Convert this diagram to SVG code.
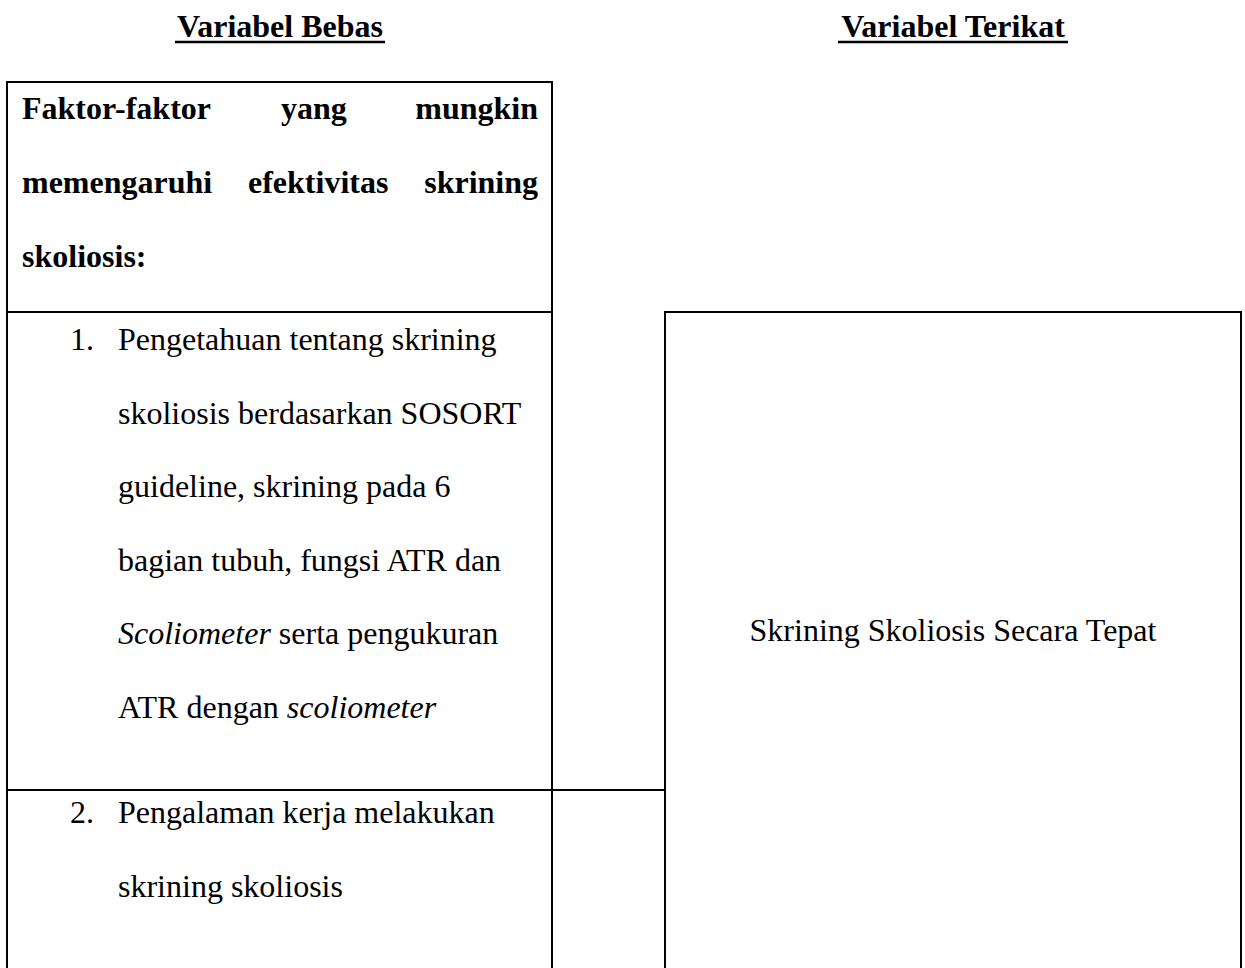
<svg xmlns="http://www.w3.org/2000/svg" width="1245" height="968" viewBox="0 0 1245 968">
<style>
  .t { font-family: "Liberation Serif", "Times New Roman", serif; font-size: 32px; fill: #000; }
  .b { font-weight: bold; }
  .i { font-style: italic; }
  .box { fill: none; stroke: #000; stroke-width: 2; }
  .ul { stroke: #000; stroke-width: 2.5; }
</style>
<rect x="0" y="0" width="1245" height="968" fill="#fff"/>

<g id="title-bebas">
  <text class="t b" x="280" y="37" text-anchor="middle">Variabel Bebas</text>
  <line class="ul" x1="175" y1="42" x2="385" y2="42"/>
</g>
<g id="title-terikat">
  <text class="t b" x="953" y="37" text-anchor="middle">Variabel Terikat</text>
  <line class="ul" x1="838" y1="42" x2="1068" y2="42"/>
</g>

<g id="variabel-bebas">
  <path class="box" d="M7,975 V82 H552 V975"/>
  <line class="box" x1="7" y1="312" x2="552" y2="312"/>
  <line class="box" x1="7" y1="790" x2="552" y2="790"/>
  <g id="header">
    <text class="t b" x="22" y="119">Faktor-faktor</text>
    <text class="t b" x="281" y="119">yang</text>
    <text class="t b" x="538" y="119" text-anchor="end">mungkin</text>
    <text class="t b" x="22" y="193">memengaruhi</text>
    <text class="t b" x="248" y="193">efektivitas</text>
    <text class="t b" x="538" y="193" text-anchor="end">skrining</text>
    <text class="t b" x="22" y="267">skoliosis:</text>
  </g>
  <g id="item-1">
    <text class="t" x="70" y="350">1.</text>
    <text class="t" x="118" y="350">Pengetahuan tentang skrining</text>
    <text class="t" x="118" y="423.5">skoliosis berdasarkan SOSORT</text>
    <text class="t" x="118" y="497">guideline, skrining pada 6</text>
    <text class="t" x="118" y="570.5">bagian tubuh, fungsi ATR dan</text>
    <text class="t" x="118" y="644"><tspan class="i">Scoliometer</tspan> serta pengukuran</text>
    <text class="t" x="118" y="717.5">ATR dengan <tspan class="i">scoliometer</tspan></text>
  </g>
  <g id="item-2">
    <text class="t" x="70" y="823">2.</text>
    <text class="t" x="118" y="823">Pengalaman kerja melakukan</text>
    <text class="t" x="118" y="897">skrining skoliosis</text>
  </g>
</g>

<g id="variabel-terikat">
  <path class="box" d="M665,975 V312 H1241 V975"/>
  <text class="t" x="953" y="641" text-anchor="middle">Skrining Skoliosis Secara Tepat</text>
</g>

<g id="connectors">
  <line class="box" x1="552" y1="790" x2="665" y2="790"/>
</g>
</svg>
